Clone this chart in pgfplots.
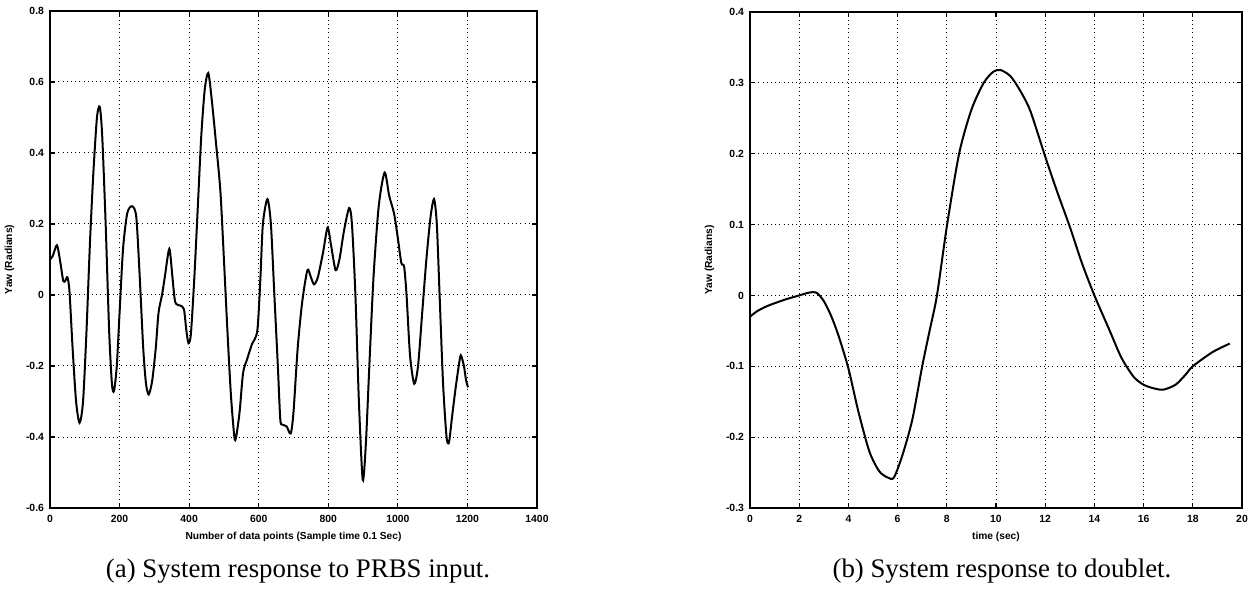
\documentclass[border=0pt]{standalone}
\usepackage{fontspec}
\setmainfont{Liberation Sans}
\newfontfamily\capfont{Liberation Serif}
\usepackage{pgfplots}
\pgfplotsset{compat=1.18}
\begin{document}
\begin{tikzpicture}
\useasboundingbox (-25pt,-41.5pt) rectangle (600pt,254pt);
\pgfplotsset{every axis/.append style={
  scale only axis,
  tick align=inside, major tick length=2.5pt,
  grid=major,
  major grid style={black, line width=0.5pt, dash pattern=on 0.5pt off 1.6pt},
  axis line style={line width=0.8pt},
  tick style={black, line width=0.6pt},
  ticklabel style={font=\bfseries\fontsize{5.2}{6}\selectfont},
  label style={font=\bfseries\fontsize{5.1}{6}\selectfont},
  /pgf/number format/assume math mode=true,
  /pgf/number format/1000 sep={},
  yticklabel style={xshift=0.5pt},
  ylabel style={yshift=-1pt},
  xlabel style={yshift=2pt},
}}
\begin{axis}[at={(0pt,0pt)}, anchor=south west, width=243.5pt, height=248.5pt,
  xmin=0, xmax=1400, ymin=-0.6, ymax=0.8,
  xtick={0,200,400,600,800,1000,1200,1400},
  ytick={-0.6,-0.4,-0.2,0,0.2,0.4,0.6,0.8},
  xlabel={Number of data points (Sample time 0.1 Sec)},
  ylabel={Yaw (Radians)}]
\addplot[black, line width=1pt, smooth, tension=0.45] coordinates {
(0,0.10) (8,0.11) (20,0.14) (30,0.09) (38,0.04) (44,0.04) (50,0.05) (56,0.01)
(65,-0.15) (75,-0.30) (85,-0.36) (95,-0.30) (105,-0.10) (115,0.15) (125,0.35)
(135,0.50) (143,0.53) (150,0.45) (160,0.20) (170,-0.10) (178,-0.25) (184,-0.27)
(192,-0.20) (200,-0.05) (210,0.13) (222,0.23) (236,0.25) (248,0.22) (258,0.05)
(268,-0.15) (276,-0.25) (284,-0.28) (294,-0.24) (304,-0.15) (312,-0.05) (322,0.0)
(330,0.05) (343,0.13) (352,0.05) (360,-0.02) (375,-0.03) (385,-0.04) (392,-0.10)
(398,-0.135) (405,-0.11) (415,0.05) (425,0.25) (435,0.45) (445,0.58) (455,0.625)
(465,0.55) (478,0.42) (490,0.29) (500,0.10) (510,-0.10) (520,-0.28) (530,-0.40)
(535,-0.40) (545,-0.33) (555,-0.22) (567,-0.18) (580,-0.14) (596,-0.10) (605,0.05)
(612,0.20) (625,0.27) (635,0.20) (645,0.0) (655,-0.20) (662,-0.35) (668,-0.365)
(680,-0.37) (692,-0.39) (700,-0.33) (712,-0.15) (725,-0.02) (740,0.07) (750,0.05)
(759,0.03) (770,0.05) (785,0.12) (798,0.19) (808,0.14) (821,0.07) (832,0.10)
(845,0.18) (860,0.245) (868,0.20) (878,0.0) (888,-0.30) (899,-0.52) (908,-0.42)
(918,-0.20) (930,0.05) (945,0.25) (962,0.345) (975,0.28) (989,0.23) (1000,0.16)
(1010,0.09) (1018,0.08) (1025,0.0) (1035,-0.17) (1047,-0.25) (1058,-0.20)
(1070,-0.05) (1082,0.10) (1094,0.22) (1104,0.27) (1112,0.20) (1120,0.0)
(1130,-0.25) (1140,-0.40) (1147,-0.415) (1155,-0.35) (1165,-0.27) (1175,-0.20)
(1181,-0.17) (1190,-0.20) (1196,-0.24) (1202,-0.26)
};
\end{axis}
\begin{axis}[at={(350pt,0pt)}, anchor=south west, width=246pt, height=248pt,
  xmin=0, xmax=20, ymin=-0.3, ymax=0.4,
  xtick={0,2,4,6,8,10,12,14,16,18,20},
  ytick={-0.3,-0.2,-0.1,0,0.1,0.2,0.3,0.4},
  xlabel={time (sec)},
  ylabel={Yaw (Radians)}]
\addplot[black, line width=1pt, smooth, tension=0.45] coordinates {
(0,-0.030) (0.3,-0.022) (0.7,-0.015) (1.0,-0.011) (1.5,-0.005) (2.0,0.000)
(2.4,0.004) (2.7,0.004) (3.0,-0.008) (3.3,-0.029) (3.6,-0.057) (4.0,-0.103)
(4.4,-0.163) (4.85,-0.220) (5.25,-0.248) (5.6,-0.257) (5.85,-0.257) (6.2,-0.225)
(6.6,-0.175) (7.0,-0.100) (7.3,-0.050) (7.6,0.000) (8.0,0.097) (8.5,0.200)
(9.0,0.262) (9.5,0.300) (9.9,0.316) (10.2,0.318) (10.6,0.309) (11.0,0.288)
(11.4,0.260) (12.0,0.196) (12.5,0.145) (13.0,0.097) (13.5,0.045) (14.0,0.000)
(14.6,-0.048) (15.1,-0.088) (15.6,-0.115) (16.0,-0.126) (16.4,-0.131) (16.8,-0.133)
(17.3,-0.126) (17.7,-0.112) (18.0,-0.100) (18.8,-0.080) (19.5,-0.068)
};
\end{axis}
\node[font=\capfont\fontsize{13.4}{15}\selectfont, anchor=base] at (124pt,-34.5pt) {(a) System response to PRBS input.};
\node[font=\capfont\fontsize{13.4}{15}\selectfont, anchor=base] at (476pt,-34.5pt) {(b) System response to doublet.};
\end{tikzpicture}
\end{document}
